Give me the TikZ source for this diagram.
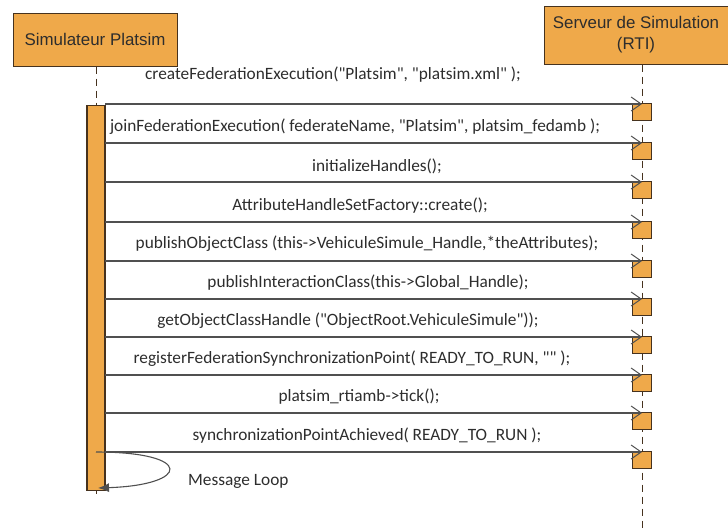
\documentclass[tikz,border=0pt]{standalone}
\usepackage{fontspec}
\newfontfamily\lblfont{Carlito}[Ligatures=TeXOff]
\newfontfamily\hdrfont{Liberation Sans}
\usetikzlibrary{arrows.meta}
\definecolor{orfill}{RGB}{239,169,74}
\definecolor{orline}{RGB}{70,50,30}
\definecolor{msgcol}{RGB}{80,80,80}
\definecolor{txtcol}{RGB}{45,45,45}
\tikzset{
  hdr/.style={draw=orline, fill=orfill, line width=1pt, font=\hdrfont\fontsize{16.9}{21}\selectfont, text=txtcol, align=center, inner sep=0pt},
  actbox/.style={draw=orline, fill=orfill, line width=1.2pt, minimum width=19pt, minimum height=17pt, inner sep=0pt, anchor=north},
  life/.style={draw=orline, line width=0.9pt, dash pattern=on 7pt off 5pt},
  msg/.style={draw=msgcol, line width=1.1pt, -{Straight Barb[length=10pt,width=14pt,line width=1pt]}},
  lbl/.style={font=\lblfont\fontsize{17.3}{20}\selectfont, text=txtcol, inner sep=0pt}
}
\begin{document}
\begin{tikzpicture}[x=1pt,y=-1pt]
\useasboundingbox (0,0) rectangle (728,530);
% headers
\node[hdr, minimum width=164pt, minimum height=53pt] (sim) at (95,39.5) {Simulateur Platsim};
\node[hdr, minimum width=184pt, minimum height=58pt] (rti) at (636,35) {Serveur de Simulation\\(RTI)};
% lifelines
\coordinate (simend) at (96,497);
\coordinate (rtiend) at (642,528);
\draw[life] (sim.south -| simend) -- (simend);
\draw[life] (rti.south -| rtiend) -- (rtiend);
% activation bar
\node[draw=orline, fill=orfill, line width=1.2pt, minimum width=18pt, minimum height=385pt, inner sep=0pt, anchor=north] (bar) at (96,105) {};
% messages
\foreach \i/\y in {1/104,2/143,3/182,4/222,5/261,6/299,7/337,8/375,9/413,10/452}{
  \node[actbox] (a\i) at (642,\y-1) {};
  \coordinate (s\i) at (105,\y);
  \draw[msg] (s\i) -- (s\i -| a\i.center);
}
% labels
\node[lbl] (l1) at (333,75) {createFederationExecution("Platsim", "platsim.xml" );};
\node[lbl] (l2) at (355,127) {joinFederationExecution( federateName, "Platsim", platsim\_fedamb );};
\node[lbl] (l3) at (377,166) {initializeHandles();};
\node[lbl] (l4) at (360,206) {AttributeHandleSetFactory::create();};
\node[lbl] (l5) at (367,244) {publishObjectClass (this->VehiculeSimule\_Handle,*theAttributes);};
\node[lbl] (l6) at (368,283) {publishInteractionClass(this->Global\_Handle);};
\node[lbl] (l7) at (348,321) {getObjectClassHandle ("ObjectRoot.VehiculeSimule"));};
\node[lbl] (l8) at (352,359) {registerFederationSynchronizationPoint( READY\_TO\_RUN, "" );};
\node[lbl] (l9) at (359,397) {platsim\_rtiamb->tick();};
\node[lbl] (l10) at (367,436) {synchronizationPointAchieved( READY\_TO\_RUN );};
% message loop
\coordinate (lp1) at (96,452);
\coordinate (lp2) at (98,488);
\draw[draw=msgcol, line width=1.1pt, -{Latex[length=11pt,width=9pt]}] (lp1) .. controls (195,452) and (190,485) .. (lp2);
\node[lbl, anchor=west] (ll) at (188,481) {Message Loop};
\end{tikzpicture}
\end{document}
